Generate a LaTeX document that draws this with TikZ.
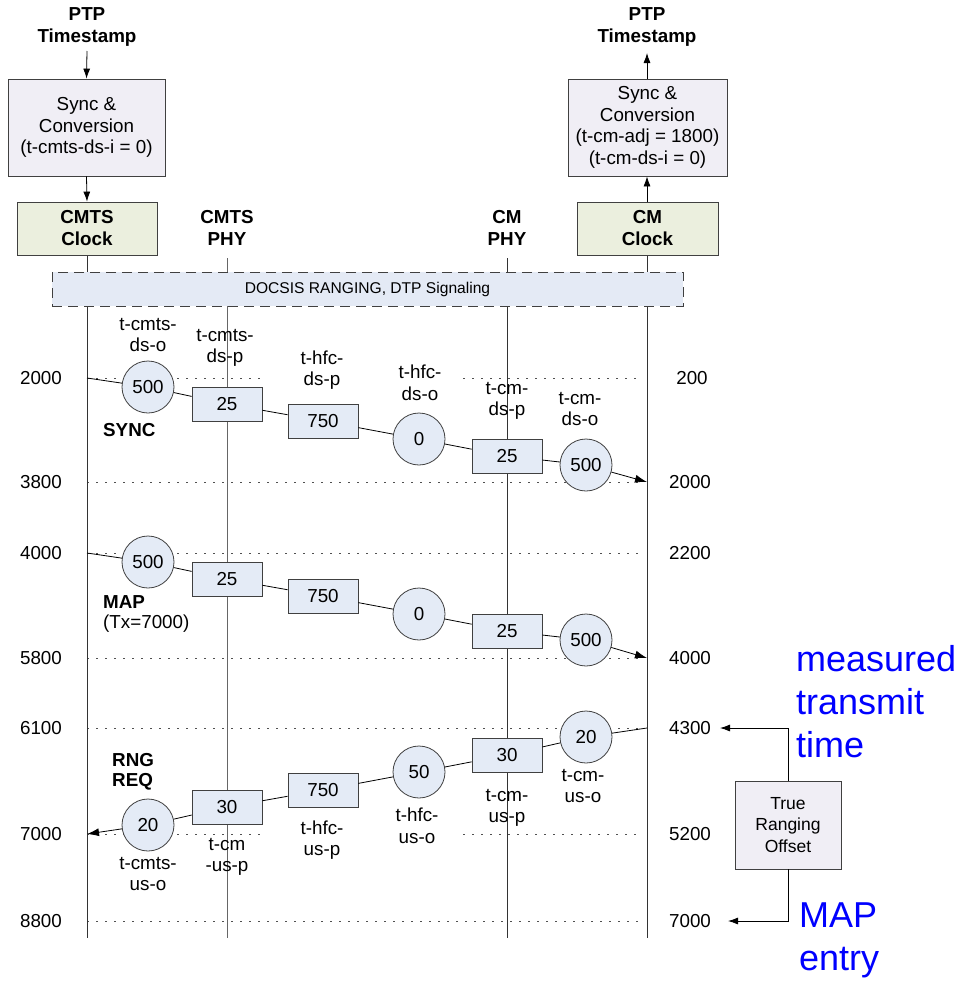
\documentclass[tikz,border=0pt]{standalone}
\usepackage{fontspec}
\setmainfont{Liberation Sans}
\usetikzlibrary{arrows.meta}
\definecolor{edge}{RGB}{64,64,64}
\definecolor{syncfill}{RGB}{240,238,245}
\definecolor{clockfill}{RGB}{235,239,222}
\definecolor{elemfill}{RGB}{228,235,246}
\definecolor{bandfill}{RGB}{228,234,245}
\definecolor{dotgray}{RGB}{80,80,80}
\definecolor{noteblue}{RGB}{0,0,255}

\begin{document}
\begin{tikzpicture}[x=1pt,y=-1pt,
  txt/.style={font=\fontsize{18.8}{21.5}\selectfont, align=center, inner sep=0pt},
  hdr/.style={font=\fontsize{18.8}{22}\selectfont\bfseries, align=center, inner sep=0pt},
  boldtag/.style={font=\fontsize{18.8}{20.5}\selectfont\bfseries, align=left, inner sep=0pt, anchor=west},
  delaybox/.style={draw=edge, fill=elemfill, line width=0.8pt, minimum width=70pt,
    minimum height=34pt, inner sep=0pt, font=\fontsize{18.8}{21.5}\selectfont},
  delaycirc/.style={circle, draw=edge, fill=elemfill, line width=0.8pt, minimum size=52pt,
    inner sep=0pt, font=\fontsize{18.8}{21.5}\selectfont},
  syncbox/.style={draw=edge, fill=syncfill, line width=0.8pt, inner sep=0pt, align=center,
    font=\fontsize{18.8}{21.5}\selectfont},
  clockbox/.style={draw=edge, fill=clockfill, line width=0.8pt, inner sep=0pt, align=center,
    minimum width=140pt, minimum height=53pt, font=\fontsize{18.8}{22}\selectfont\bfseries},
  lifeline/.style={draw=black!80, line width=1pt},
  tick/.style={draw=dotgray, line width=0.9pt, dash pattern=on 2pt off 7pt},
  link/.style={draw=black, line width=0.8pt},
  tip/.style={-{Latex[length=12pt,width=8pt]}},
  note/.style={font=\fontsize{36}{43}\selectfont, text=noteblue, align=left, inner sep=0pt, anchor=west}
]
\useasboundingbox (0,0) rectangle (962,983);

% ---- time grid (dotted) ----
\draw[tick] (87,378) -- (265,378);
\draw[tick] (463,378) -- (640,378);
\draw[tick] (87,482) -- (640,482);
\draw[tick] (87,553) -- (640,553);
\draw[tick] (87,658) -- (640,658);
\draw[tick] (87,728) -- (640,728);
\draw[tick] (87,834) -- (265,834);
\draw[tick] (463,834) -- (640,834);
\draw[tick] (87,921) -- (640,921);

% ---- lifelines ----
\coordinate (cmtsTop) at (87,255);   \coordinate (cmtsBot) at (87,938);
\coordinate (cphyTop) at (227,258);  \coordinate (cphyBot) at (227,938);
\coordinate (mphyTop) at (507,258);  \coordinate (mphyBot) at (507,938);
\coordinate (cmTop)   at (647,255);  \coordinate (cmBot)   at (647,938);
\draw[lifeline] (cmtsTop) -- (cmtsBot);
\draw[lifeline, draw=black!60] (cphyTop) -- (cphyBot);
\draw[lifeline] (mphyTop) -- (mphyBot);
\draw[lifeline] (cmTop) -- (cmBot);

% ---- header: PTP, sync/conversion, clocks ----
\node[hdr] (ptpL) at (87,27) {PTP\\Timestamp};
\node[hdr] (ptpR) at (647,27) {PTP\\Timestamp};
\node[syncbox, minimum width=157pt, minimum height=97pt] (syncL) at (86.5,127.5)
  {Sync \&\\Conversion\\(t-cmts-ds-i = 0)};
\node[syncbox, minimum width=159pt, minimum height=97pt] (syncR) at (647.5,127.5)
  {Sync \&\\Conversion\\(t-cm-adj = 1800)\\(t-cm-ds-i = 0)};
\node[clockbox] (clkL) at (87,228.5) {CMTS\\Clock};
\node[clockbox, minimum width=141pt] (clkR) at (647.5,228.5) {CM\\Clock};
\node[hdr] (phyL) at (227,228) {CMTS\\PHY};
\node[hdr] (phyR) at (507,228) {CM\\PHY};
\coordinate (ptpLfoot) at (87,51);
\coordinate (ptpRfoot) at (647,53);
\draw[link, -{Latex[length=10pt,width=7pt]}] (ptpLfoot) -- (syncL.north);
\draw[link, -{Latex[length=10pt,width=7pt]}] (syncL.south) -- (clkL.north);
\draw[link, -{Latex[length=10pt,width=7pt]}] (clkR.north -| cmTop) -- (syncR.south -| cmTop);
\draw[link, -{Latex[length=10pt,width=7pt]}] (syncR.north -| cmTop) -- (ptpRfoot);

% ---- signaling band ----
\node[draw=edge, fill=bandfill, line width=0.9pt, dash pattern=on 10pt off 6pt,
      minimum width=631pt, minimum height=34pt, inner sep=0pt,
      font=\fontsize{15.6}{18}\selectfont] (band) at (367.5,289) {DOCSIS RANGING, DTP Signaling};

% ---- time values, CMTS side ----
\foreach \v/\y in {2000/378, 3800/482, 4000/553, 5800/658, 6100/728, 7000/834, 8800/921}
  \node[txt] (l\v) at (41,\y) {\v};
% ---- time values, CM side ----
\node[txt] (rA) at (692,378) {200};
\node[txt] (rB) at (690,482) {2000};
\node[txt] (rC) at (690,553) {2200};
\node[txt] (rD) at (690,658) {4000};
\node[txt] (rE) at (690,728) {4300};
\node[txt] (rF) at (690,834) {5200};
\node[txt] (rG) at (690,921) {7000};

% ---- SYNC ----
\node[delaycirc] (s1) at (148,387) {500};
\node[delaybox]  (s2) at (227,404) {25};
\node[delaybox]  (s3) at (323,421) {750};
\node[delaycirc] (s4) at (419,439) {0};
\node[delaybox]  (s5) at (507,456) {25};
\node[delaycirc] (s6) at (586,465) {500};
\coordinate (sIn) at (87,378);
\coordinate (sOut) at (647,482);
\draw[link, tip] (sIn) -- (s1) -- (s2) -- (s3) -- (s4) -- (s5) -- (s6) -- (sOut);
\node[txt] (s1t) at (148,335) {t-cmts-\\ds-o};
\node[txt] (s2t) at (225,348) {t-cmts-\\ds-p};
\node[txt] (s3t) at (322,370) {t-hfc-\\ds-p};
\node[txt] (s4t) at (420,383) {t-hfc-\\ds-o};
\node[txt] (s5t) at (507,401) {t-cm-\\ds-p};
\node[txt] (s6t) at (580,409) {t-cm-\\ds-o};
\node[boldtag] (sTag) at (103,430) {SYNC};

% ---- MAP ----
\node[delaycirc] (m1) at (148,562) {500};
\node[delaybox]  (m2) at (227,579) {25};
\node[delaybox]  (m3) at (323,596) {750};
\node[delaycirc] (m4) at (419,614) {0};
\node[delaybox]  (m5) at (507,631) {25};
\node[delaycirc] (m6) at (586,640) {500};
\coordinate (mIn) at (87,553);
\coordinate (mOut) at (647,658);
\draw[link, tip] (mIn) -- (m1) -- (m2) -- (m3) -- (m4) -- (m5) -- (m6) -- (mOut);
\node[font=\fontsize{18.8}{20.5}\selectfont, align=left, inner sep=0pt, anchor=west] (mTag) at (103,614)
  {\textbf{MAP}\\(Tx=7000)};

% ---- RNG-REQ ----
\node[delaycirc] (q1) at (586,737) {20};
\node[delaybox]  (q2) at (507,755) {30};
\node[delaycirc] (q3) at (419,772) {50};
\node[delaybox]  (q4) at (323,790) {750};
\node[delaybox]  (q5) at (227,807) {30};
\node[delaycirc] (q6) at (148,825) {20};
\coordinate (qIn) at (647,728);
\coordinate (qOut) at (87,834);
\draw[link, tip] (qIn) -- (q1) -- (q2) -- (q3) -- (q4) -- (q5) -- (q6) -- (qOut);
\node[txt] (q1t) at (583,786) {t-cm-\\us-o};
\node[txt] (q2t) at (507,808) {t-cm-\\us-p};
\node[txt] (q3t) at (417,826) {t-hfc-\\us-o};
\node[txt] (q4t) at (322,840) {t-hfc-\\us-p};
\node[txt] (q5t) at (227,857) {t-cm\\-us-p};
\node[txt] (q6t) at (148,874) {t-cmts-\\us-o};
\node[boldtag] (qTag) at (112,772) {RNG\\REQ};

% ---- true ranging offset ----
\node[syncbox, minimum width=106pt, minimum height=88pt, font=\fontsize{17.5}{21.5}\selectfont]
  (tro) at (788,825) {True\\Ranging\\Offset};
\coordinate (troUp) at (720,728);
\coordinate (troDown) at (728,921);
\draw[link, -{Latex[length=10pt,width=7pt]}] (tro.north) |- (troUp);
\draw[link, -{Latex[length=10pt,width=7pt]}] (tro.south) |- (troDown);
\node[note] (noteA) at (796,702) {measured\\transmit\\time};
\node[note] (noteB) at (799,940) {MAP\\entry};
\end{tikzpicture}
\end{document}
